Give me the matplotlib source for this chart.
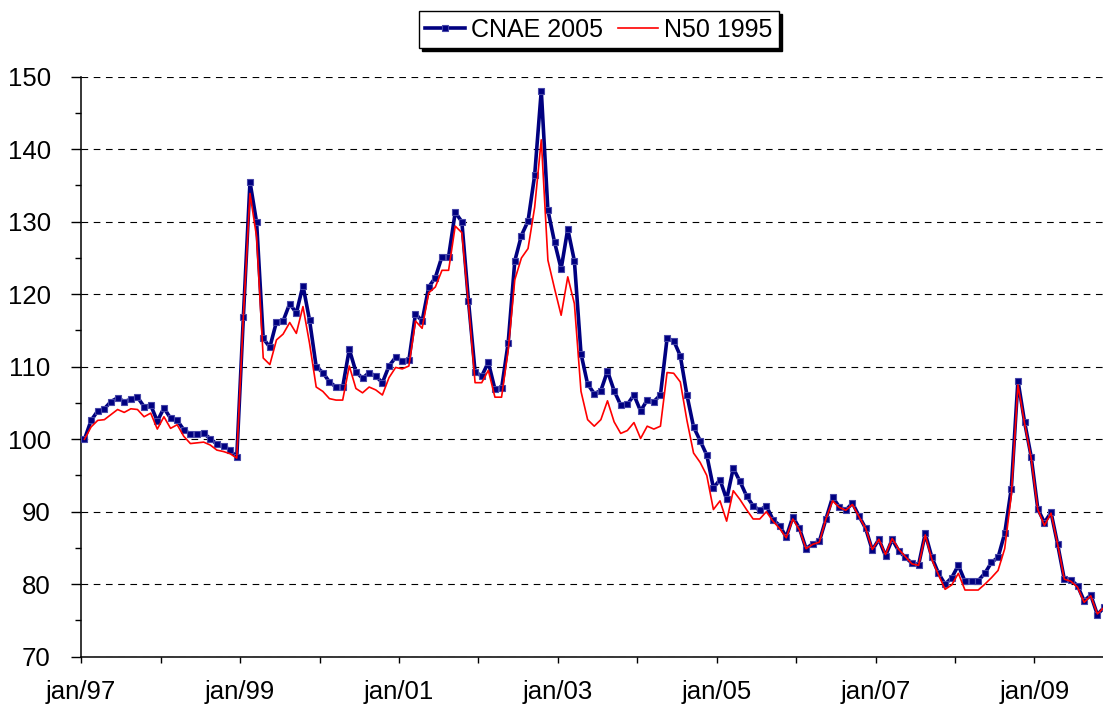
import numpy as np
import matplotlib
matplotlib.use('Agg')
import matplotlib.pyplot as plt
from matplotlib.ticker import MultipleLocator, FixedLocator

plt.rcParams['font.family'] = ['Liberation Sans', 'DejaVu Sans']

# Monthly index, jan/97 = 100 (jan/97 .. nov/09)
cnae_2005 = [
    100.0, 102.6, 103.9, 104.2, 105.2, 105.7, 105.2, 105.5, 105.8, 104.5, 104.7, 102.5,
    104.3, 102.9, 102.6, 101.3, 100.7, 100.7, 100.8, 100.1, 99.3, 99.1, 98.5, 97.5,
    116.9, 135.5, 129.9, 113.9, 112.7, 116.2, 116.3, 118.7, 117.4, 121.2, 116.4, 110.0,
    109.2, 107.9, 107.2, 107.2, 112.4, 109.3, 108.4, 109.2, 108.7, 107.8, 110.1, 111.3,
    110.8, 110.9, 117.3, 116.3, 121.0, 122.3, 125.2, 125.2, 131.3, 130.0, 119.1, 109.3,
    108.7, 110.6, 106.9, 107.0, 113.3, 124.6, 128.1, 130.1, 136.4, 148.1, 131.6, 127.2,
    123.5, 129.0, 124.6, 111.8, 107.6, 106.3, 106.7, 109.4, 106.7, 104.7, 104.8, 106.1,
    103.9, 105.4, 105.2, 106.1, 113.9, 113.6, 111.5, 106.1, 101.7, 99.8, 97.8, 93.3,
    94.4, 91.7, 96.0, 94.2, 92.2, 90.8, 90.2, 90.8, 88.9, 88.1, 86.5, 89.3,
    87.7, 84.9, 85.6, 85.9, 89.0, 92.0, 90.7, 90.2, 91.2, 89.4, 87.7, 84.7,
    86.2, 83.9, 86.2, 84.6, 83.7, 82.9, 82.7, 87.0, 83.7, 81.5, 80.0, 80.9,
    82.6, 80.4, 80.4, 80.5, 81.5, 83.0, 83.7, 87.0, 93.2, 108.1, 102.4, 97.6,
    90.4, 88.5, 89.9, 85.5, 80.7, 80.6, 79.8, 77.7, 78.5, 75.8, 76.8,
]

n50_1995 = [
    100.0, 101.7, 102.6, 102.7, 103.4, 104.1, 103.7, 104.2, 104.1, 103.1, 103.6, 101.4,
    103.1, 101.5, 102.0, 100.4, 99.4, 99.5, 99.6, 99.2, 98.5, 98.3, 98.0, 97.4,
    117.0, 133.9, 127.9, 111.2, 110.3, 113.7, 114.5, 116.1, 114.6, 118.3, 113.2, 107.2,
    106.6, 105.6, 105.4, 105.4, 110.1, 107.0, 106.4, 107.2, 106.8, 106.1, 108.5, 109.9,
    109.7, 110.1, 116.3, 115.3, 120.2, 121.0, 123.3, 123.3, 129.4, 128.5, 118.7, 107.8,
    107.8, 109.5, 105.8, 105.8, 112.3, 122.0, 125.0, 126.3, 132.0, 141.3, 124.7, 120.8,
    117.1, 122.4, 118.7, 106.6, 102.7, 101.8, 102.7, 105.3, 102.4, 100.8, 101.2, 102.3,
    100.1, 101.8, 101.4, 101.8, 109.2, 109.1, 107.9, 102.6, 98.1, 96.8, 95.0, 90.3,
    91.5, 88.7, 92.9, 91.7, 90.3, 89.0, 89.0, 90.0, 88.7, 87.7, 86.4, 89.0,
    87.5, 84.9, 85.5, 85.8, 89.0, 91.5, 90.6, 90.2, 91.0, 89.3, 87.7, 84.8,
    86.2, 84.1, 86.3, 84.8, 83.8, 82.8, 82.6, 86.8, 83.4, 81.3, 79.3, 79.9,
    81.5, 79.2, 79.2, 79.2, 80.0, 80.9, 81.9, 84.9, 92.3, 107.5, 102.2, 97.4,
    90.3, 88.1, 89.8, 85.5, 80.7, 80.4, 79.6, 77.5, 78.4, 75.9, 76.8,
]

tick_labels = ['jan/97', 'jan/99', 'jan/01', 'jan/03', 'jan/05', 'jan/07', 'jan/09']

x = np.arange(len(cnae_2005)) + 0.5

fig = plt.figure(figsize=(11.03, 7.06), dpi=100)
ax = fig.add_axes([0.0736, 0.0698, 0.9264, 0.8215])

ax.plot(x, cnae_2005, color='#000080', lw=2.6, marker='s', markersize=4.4,
        markerfacecolor='#000080', markeredgecolor='#4646a8', markeredgewidth=0.8,
        label='CNAE 2005', zorder=3)
ax.plot(x, n50_1995, color='#ff0000', lw=1.2, label='N50 1995', zorder=4)

ax.set_xlim(0, 154.35)
ax.set_ylim(70, 150)

# y axis
ax.yaxis.set_major_locator(MultipleLocator(10))
ax.yaxis.set_minor_locator(MultipleLocator(5))
ax.tick_params(axis='y', which='major', direction='out', length=7, width=1, pad=15, labelsize=18.5)
ax.tick_params(axis='y', which='minor', direction='out', length=4, width=1)

# x axis: ticks every year, labels every two years
ax.xaxis.set_major_locator(FixedLocator(np.arange(0, 145, 24)))
ax.xaxis.set_minor_locator(FixedLocator(np.arange(12, 145, 24)))
ax.set_xticklabels(tick_labels)
ax.tick_params(axis='x', which='both', direction='out', length=4.5, width=1, pad=12, labelsize=18.5)

ax.grid(axis='y', which='major', color='black', lw=0.8, linestyle=(0, (6, 5)))
ax.set_axisbelow(True)

for side in ['top', 'right']:
    ax.spines[side].set_visible(False)
for side in ['left', 'bottom']:
    ax.spines[side].set_linewidth(1.1)

leg = fig.legend(loc='center', bbox_to_anchor=(0.543, 0.958), ncol=2, fontsize=18,
                 frameon=True, fancybox=False, edgecolor='black', framealpha=1,
                 borderpad=0.25, handlelength=1.6, handletextpad=0.25,
                 columnspacing=0.6, borderaxespad=0,
                 shadow={'color': 'black', 'alpha': 1})
leg.get_frame().set_linewidth(1.0)

fig.savefig('out.png', dpi=100)
